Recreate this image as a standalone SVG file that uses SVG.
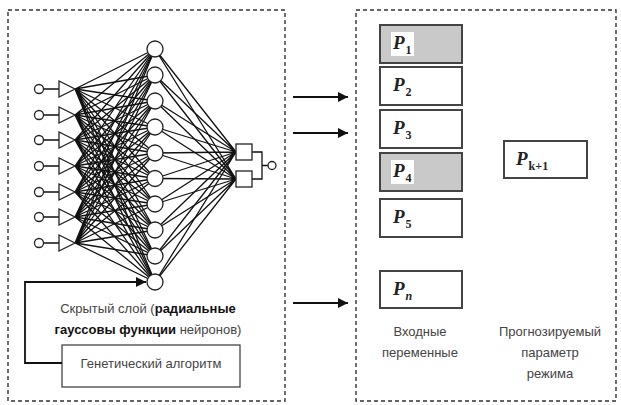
<svg xmlns="http://www.w3.org/2000/svg" width="621" height="405" viewBox="0 0 621 405">
  <defs>
    <marker id="arrow" viewBox="0 0 10 10" refX="10" refY="5" markerWidth="11" markerHeight="10" markerUnits="userSpaceOnUse" orient="auto">
      <path d="M0 0L10 5L0 10z" fill="#111"/>
    </marker>
    <style>
      .panel { fill: none; stroke: #333; stroke-width: 1.4; stroke-dasharray: 4 3; }
      .net { fill: none; stroke: #111; stroke-width: 1.3; }
      .node { fill: #fff; stroke: #222; stroke-width: 1.3; }
      .box { fill: #fff; stroke: #444; stroke-width: 2; }
      .box.shade { fill: #c9c9c9; }
      .link { fill: none; stroke: #111; stroke-width: 1.8; }
      .txt { font-family: "Liberation Sans", "DejaVu Sans", sans-serif; font-size: 13px; fill: #444; }
      .b { font-weight: bold; fill: #111; }
      .var { font-family: "Liberation Serif", "DejaVu Serif", serif; font-weight: bold; font-style: italic; font-size: 19px; fill: #222; }
      .sub { font-size: 12px; font-style: normal; }
      .sub.it { font-style: italic; }
    </style>
  </defs>

  <!-- outer panels -->
  <rect class="panel" x="8" y="10" width="277" height="391"/>
  <rect class="panel" x="356" y="10" width="260" height="391"/>

  <!-- neural network -->
  <g id="network">
    <!-- input -> hidden weights -->
    <g class="net">
      <path d="M75 89L155 49M75 89L155 75M75 89L155 101M75 89L155 127M75 89L155 153M75 89L155 178.5M75 89L155 204M75 89L155 230M75 89L155 256M75 89L155 282"/>
      <path d="M75 115L155 49M75 115L155 75M75 115L155 101M75 115L155 127M75 115L155 153M75 115L155 178.5M75 115L155 204M75 115L155 230M75 115L155 256M75 115L155 282"/>
      <path d="M75 140L155 49M75 140L155 75M75 140L155 101M75 140L155 127M75 140L155 153M75 140L155 178.5M75 140L155 204M75 140L155 230M75 140L155 256M75 140L155 282"/>
      <path d="M75 166L155 49M75 166L155 75M75 166L155 101M75 166L155 127M75 166L155 153M75 166L155 178.5M75 166L155 204M75 166L155 230M75 166L155 256M75 166L155 282"/>
      <path d="M75 192L155 49M75 192L155 75M75 192L155 101M75 192L155 127M75 192L155 153M75 192L155 178.5M75 192L155 204M75 192L155 230M75 192L155 256M75 192L155 282"/>
      <path d="M75 217L155 49M75 217L155 75M75 217L155 101M75 217L155 127M75 217L155 153M75 217L155 178.5M75 217L155 204M75 217L155 230M75 217L155 256M75 217L155 282"/>
      <path d="M75 243L155 49M75 243L155 75M75 243L155 101M75 243L155 127M75 243L155 153M75 243L155 178.5M75 243L155 204M75 243L155 230M75 243L155 256M75 243L155 282"/>
      <!-- hidden -> output weights -->
      <path d="M155 49L236 152M155 75L236 152M155 101L236 152M155 127L236 152M155 153L236 152M155 178.5L236 152M155 204L236 152M155 230L236 152M155 256L236 152M155 282L236 152"/>
      <path d="M155 49L236 179M155 75L236 179M155 101L236 179M155 127L236 179M155 153L236 179M155 178.5L236 179M155 204L236 179M155 230L236 179M155 256L236 179M155 282L236 179"/>
      <!-- input stubs -->
      <path d="M43.5 89H59M43.5 115H59M43.5 140H59M43.5 166H59M43.5 192H59M43.5 217H59M43.5 243H59"/>
      <!-- output combiner -->
      <path d="M252 152H262V179H252M262 165.5H268"/>
    </g>
    <!-- input nodes -->
    <g id="inputs">
      <circle class="node" cx="39" cy="89" r="4.5"/>
      <circle class="node" cx="39" cy="115" r="4.5"/>
      <circle class="node" cx="39" cy="140" r="4.5"/>
      <circle class="node" cx="39" cy="166" r="4.5"/>
      <circle class="node" cx="39" cy="192" r="4.5"/>
      <circle class="node" cx="39" cy="217" r="4.5"/>
      <circle class="node" cx="39" cy="243" r="4.5"/>
      <path class="node" d="M59 81V97L75 89z"/>
      <path class="node" d="M59 107V123L75 115z"/>
      <path class="node" d="M59 132V148L75 140z"/>
      <path class="node" d="M59 158V174L75 166z"/>
      <path class="node" d="M59 184V200L75 192z"/>
      <path class="node" d="M59 209V225L75 217z"/>
      <path class="node" d="M59 235V251L75 243z"/>
    </g>
    <!-- hidden RBF neurons -->
    <g id="hidden">
      <circle class="node" cx="155" cy="49" r="8"/>
      <circle class="node" cx="155" cy="75" r="8"/>
      <circle class="node" cx="155" cy="101" r="8"/>
      <circle class="node" cx="155" cy="127" r="8"/>
      <circle class="node" cx="155" cy="153" r="8"/>
      <circle class="node" cx="155" cy="178.5" r="8"/>
      <circle class="node" cx="155" cy="204" r="8"/>
      <circle class="node" cx="155" cy="230" r="8"/>
      <circle class="node" cx="155" cy="256" r="8"/>
      <circle class="node" cx="155" cy="282" r="8"/>
    </g>
    <!-- output -->
    <g id="output">
      <rect class="node" x="236" y="144" width="16" height="16"/>
      <rect class="node" x="236" y="171" width="16" height="16"/>
      <circle class="node" cx="272" cy="165.5" r="4"/>
    </g>
  </g>

  <g id="caption">
    <text class="txt" x="148" y="313" text-anchor="middle">Скрытый слой (<tspan class="b">радиальные</tspan></text>
    <text class="txt" x="148" y="334" text-anchor="middle"><tspan class="b">гауссовы функции</tspan> нейронов)</text>
  </g>

  <g id="genetic">
    <rect x="62" y="345" width="178" height="42" fill="#fff" stroke="#444" stroke-width="1.3"/>
    <text class="txt" x="151" y="368" text-anchor="middle">Генетический алгоритм</text>
  </g>

  <!-- connectors -->
  <g id="connectors">
    <path class="link" d="M62 363H25V282H146" stroke-width="1.4" marker-end="url(#arrow)"/>
    <path class="link" d="M293 97H348" marker-end="url(#arrow)"/>
    <path class="link" d="M293 133H348" marker-end="url(#arrow)"/>
    <path class="link" d="M293 303H348" marker-end="url(#arrow)"/>
  </g>

  <!-- input variables -->
  <g id="p1">
    <rect class="box shade" x="380" y="25" width="82" height="38"/>
    <rect x="391" y="32" width="23" height="24" fill="#fff"/>
    <text class="var" x="393" y="49">P<tspan class="sub" dx="1" dy="5">1</tspan></text>
  </g>
  <g id="p2">
    <rect class="box" x="380" y="67" width="82" height="38"/>
    <text class="var" x="393" y="91">P<tspan class="sub" dx="1" dy="5">2</tspan></text>
  </g>
  <g id="p3">
    <rect class="box" x="380" y="110" width="82" height="38"/>
    <text class="var" x="393" y="134">P<tspan class="sub" dx="1" dy="5">3</tspan></text>
  </g>
  <g id="p4">
    <rect class="box shade" x="380" y="153" width="82" height="38"/>
    <rect x="391" y="160" width="23" height="24" fill="#fff"/>
    <text class="var" x="393" y="177">P<tspan class="sub" dx="1" dy="5">4</tspan></text>
  </g>
  <g id="p5">
    <rect class="box" x="380" y="199" width="82" height="38"/>
    <text class="var" x="393" y="223">P<tspan class="sub" dx="1" dy="5">5</tspan></text>
  </g>
  <g id="pn">
    <rect class="box" x="380" y="271" width="82" height="37"/>
    <text class="var" x="393" y="295">P<tspan class="sub it" dx="1" dy="5">n</tspan></text>
  </g>

  <!-- predicted parameter -->
  <g id="pk1">
    <rect class="box" x="504" y="141" width="83" height="37" stroke-width="1.6"/>
    <text class="var" x="516" y="165">P<tspan class="sub" dx="1" dy="5"><tspan class="it">k</tspan>+1</tspan></text>
  </g>

  <g id="labels">
    <text class="txt" x="420" y="336" text-anchor="middle">Входные</text>
    <text class="txt" x="420" y="357" text-anchor="middle">переменные</text>
    <text class="txt" x="550" y="336" text-anchor="middle">Прогнозируемый</text>
    <text class="txt" x="550" y="357" text-anchor="middle">параметр</text>
    <text class="txt" x="550" y="378" text-anchor="middle">режима</text>
  </g>
</svg>
